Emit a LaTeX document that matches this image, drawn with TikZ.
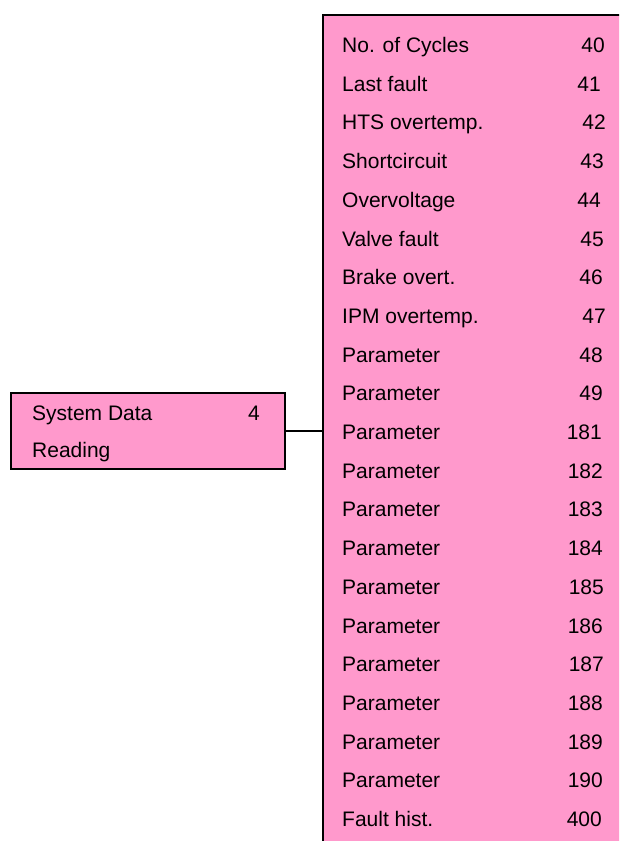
\documentclass[tikz,border=0pt]{standalone}
\usepackage{fontspec}
\setmainfont{Liberation Sans}
\usetikzlibrary{positioning}
\definecolor{menupink}{RGB}{255,153,204}
\tikzset{
  menubox/.style={draw=black, line width=1.6pt, fill=menupink, rectangle, inner sep=0pt},
  entry/.style={anchor=base west, inner sep=0pt, font=\fontsize{21}{25}\selectfont},
  code/.style={anchor=base east, inner sep=0pt, font=\fontsize{21}{25}\selectfont},
}
\begin{document}
\begin{tikzpicture}[x=1pt, y=-1pt]
  \useasboundingbox (0,0) rectangle (619,841);
  \clip (0,0) rectangle (619,841);

  % Menu boxes
  \node[menubox, minimum width=274pt, minimum height=76pt, anchor=north west] (sysdata) at (10,392) {};
  \node[menubox, minimum width=330pt, minimum height=880pt, anchor=north west] (submenu) at (322,14) {};
  \draw[line width=1.6pt] (sysdata.east) -- (sysdata.east -| submenu.west);

  % Main entry
  \node[entry] (sysname) at (32,420.7) {System Data};
  \node[entry] (sysread) at (32,457.7) {Reading};
  \node[code] (sysnum) at (260,420.7) {4};

  % Sub entries
  \foreach \lbl/\num/\xe [count=\i from 0] in {No. of Cycles/40/605, Last fault/41/601,
      HTS overtemp./42/606, Shortcircuit/43/604, Overvoltage/44/601, Valve fault/45/604,
      Brake overt./46/603, IPM overtemp./47/606, Parameter/48/603, Parameter/49/603,
      Parameter/181/602, Parameter/182/603, Parameter/183/603, Parameter/184/603,
      Parameter/185/604, Parameter/186/603, Parameter/187/604, Parameter/188/603,
      Parameter/189/603, Parameter/190/603, Fault hist./400/602} {
    \node[entry] (item\i) at (342,52.5+38.7*\i) {\lbl};
    \node[code] (num\i) at (\xe,52.5+38.7*\i) {\num};
  }
\end{tikzpicture}
\end{document}
